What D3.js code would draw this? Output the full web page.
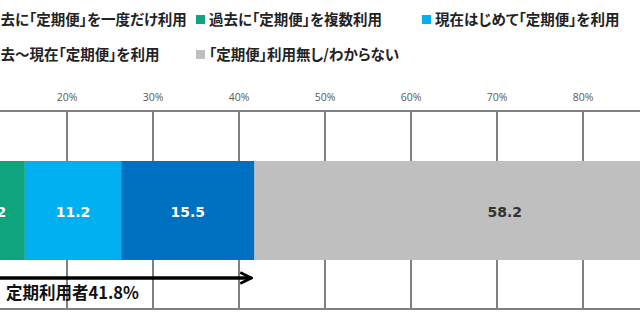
<!DOCTYPE html>
<html>
<head>
<meta charset="utf-8">
<script src="https://cdn.jsdelivr.net/npm/d3@7"></script>
<style>
  body { margin: 0; background: #fff; }
  svg { display: block; }
  .jp { font-feature-settings: "palt"; }
</style>
</head>
<body>
<svg id="chart" width="640" height="332"></svg>
<script>
// series (stacked, one bar)
const categories = [
  "過去に「定期便」を一度だけ利用",
  "過去に「定期便」を複数利用",
  "現在はじめて「定期便」を利用",
  "過去～現在「定期便」を利用",
  "「定期便」利用無し/わからない"
];
const values = [7.9, 7.2, 11.2, 15.5, 58.2];
const colors = ["#1f7a5c", "#0fa37e", "#00b0f0", "#0070c0", "#bfbfbf"];
const labelColors = ["#fff", "#fff", "#fff", "#fff", "#333"];
const tickValues = [0, 10, 20, 30, 40, 50, 60, 70, 80, 90, 100];
const usersTotal = 41.8;

const svg = d3.select("#chart");
const jp = "'Noto Sans CJK JP', 'Noto Sans', sans-serif";

// the picture is a crop: 0% sits left of the frame
const x = d3.scaleLinear().domain([0, 100]).range([-105, 755]);
const barTop = 161, barBottom = 260;
const axisY = 111, bottomY = 309;

// grid lines
svg.append("g")
  .selectAll("line")
  .data(tickValues)
  .enter().append("line")
  .attr("x1", d => x(d)).attr("x2", d => x(d))
  .attr("y1", axisY).attr("y2", bottomY)
  .attr("stroke", "#808080").attr("stroke-width", 2);

[axisY, bottomY].forEach(y => {
  svg.append("line")
    .attr("x1", 0).attr("x2", 640)
    .attr("y1", y).attr("y2", y)
    .attr("stroke", "#808080").attr("stroke-width", 2);
});

// tick labels (only those inside the frame show anyway)
svg.append("g")
  .selectAll("text")
  .data(tickValues.filter(d => x(d) > 15 && x(d) < 625))
  .enter().append("text")
  .attr("x", d => x(d))
  .attr("y", 101)
  .attr("text-anchor", "middle")
  .attr("font-family", "'Open Sans', 'DejaVu Sans', sans-serif")
  .attr("font-size", 10.5)
  .attr("fill", "#595959")
  .text(d => d + "%");

// stacked segments
let acc = 0;
const segs = values.map((v, i) => {
  const s = { i, v, x0: acc, x1: acc + v };
  acc += v;
  return s;
});

svg.append("g")
  .selectAll("rect")
  .data(segs)
  .enter().append("rect")
  .attr("x", d => x(d.x0))
  .attr("y", barTop)
  .attr("width", d => x(d.x1) - x(d.x0))
  .attr("height", barBottom - barTop)
  .attr("fill", d => colors[d.i]);

svg.append("g")
  .selectAll("text")
  .data(segs)
  .enter().append("text")
  .attr("x", d => (x(d.x0) + x(d.x1)) / 2)
  .attr("y", 217)
  .attr("text-anchor", "middle")
  .attr("font-family", "'DejaVu Sans', Verdana, sans-serif")
  .attr("font-weight", "bold")
  .attr("font-size", 14)
  .attr("fill", d => labelColors[d.i])
  .text(d => d.v.toFixed(1));

// arrow for users total
svg.append("defs").append("marker")
  .attr("id", "head")
  .attr("viewBox", "0 0 10 10")
  .attr("refX", 9).attr("refY", 5)
  .attr("markerWidth", 4).attr("markerHeight", 4)
  .attr("orient", "auto")
  .append("path")
  .attr("d", "M1,1 L9,5 L1,9")
  .attr("fill", "none")
  .attr("stroke", "#000")
  .attr("stroke-width", 2);

svg.append("line")
  .attr("x1", x(0)).attr("x2", x(usersTotal) - 3)
  .attr("y1", 278).attr("y2", 278)
  .attr("stroke", "#000").attr("stroke-width", 3.5)
  .attr("marker-end", "url(#head)");

svg.append("text")
  .attr("class", "jp")
  .attr("x", 6).attr("y", 299)
  .attr("font-family", jp)
  .attr("font-weight", "bold")
  .attr("font-size", 16.5)
  .attr("fill", "#111")
  .text("定期利用者" + usersTotal + "%");

// legend
const legendPos = [
  [-27, 20], [196, 20], [422, 20],
  [-27, 55], [196, 55]
];
const legend = svg.append("g")
  .selectAll("g")
  .data(categories)
  .enter().append("g")
  .attr("transform", (d, i) => `translate(${legendPos[i][0]},${legendPos[i][1]})`);

legend.append("rect")
  .attr("x", 0).attr("y", -5)
  .attr("width", 9).attr("height", 9)
  .attr("fill", (d, i) => colors[i]);

legend.append("text")
  .attr("class", "jp")
  .attr("x", 13).attr("y", 5)
  .attr("font-family", jp)
  .attr("font-weight", "bold")
  .attr("font-size", 14.5)
  .attr("fill", "#222")
  .text(d => d);
</script>
</body>
</html>
